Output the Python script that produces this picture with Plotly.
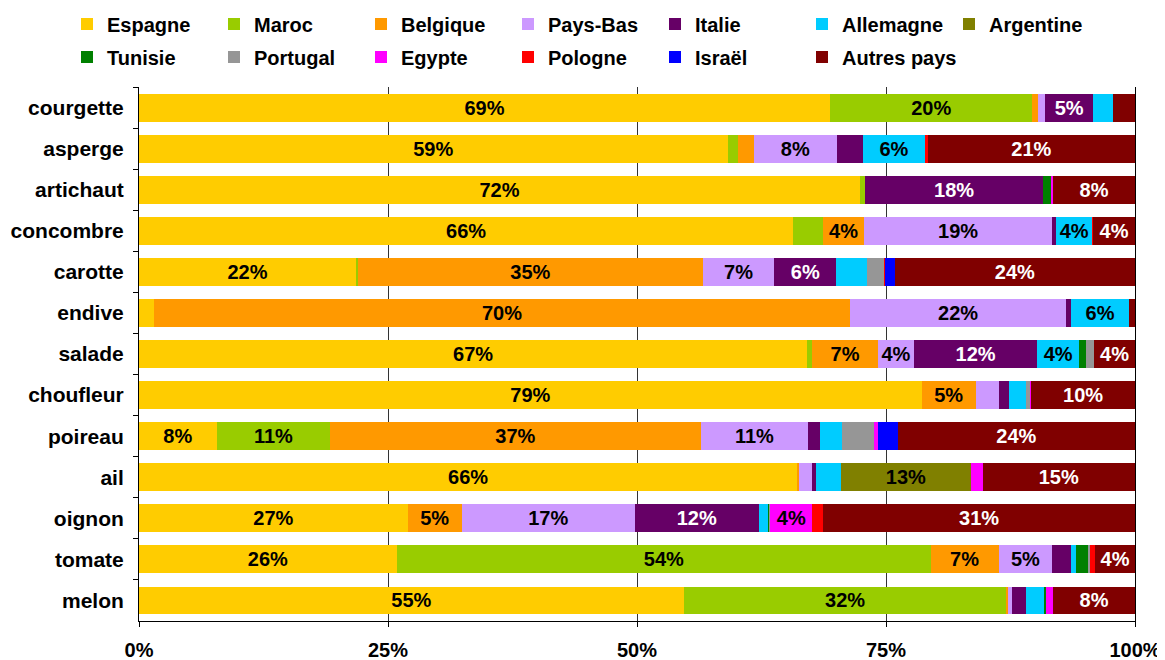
import plotly.graph_objects as go

categories = ["courgette", "asperge", "artichaut", "concombre", "carotte", "endive",
              "salade", "choufleur", "poireau", "ail", "oignon", "tomate", "melon"]

espagne   = [69.4, 59.1, 72.4, 65.7, 21.8, 1.5, 67.1, 78.6, 7.8, 66.1, 27.0, 25.9, 54.7]
maroc     = [20.3, 1.0, 0.5, 3.0, 0.2, 0.0, 0.5, 0.0, 11.4, 0.0, 0.0, 53.6, 32.4]
belgique  = [0.6, 1.6, 0.0, 4.1, 34.6, 69.9, 6.6, 5.4, 37.2, 0.2, 5.4, 6.8, 0.1]
pays_bas  = [0.7, 8.4, 0.0, 18.9, 7.2, 21.7, 3.6, 2.3, 10.8, 1.3, 17.4, 5.4, 0.5]
italie    = [4.8, 2.6, 17.9, 0.4, 6.2, 0.5, 12.4, 1.0, 1.2, 0.4, 12.4, 1.9, 1.4]
allemagne = [2.0, 6.2, 0.0, 3.6, 3.1, 5.8, 4.2, 1.8, 2.2, 2.5, 1.0, 0.5, 1.8]
argentine = [0.0, 0.0, 0.0, 0.0, 0.0, 0.0, 0.0, 0.0, 0.0, 13.0, 0.0, 0.0, 0.0]
tunisie   = [0.0, 0.0, 0.8, 0.0, 0.0, 0.0, 0.7, 0.0, 0.0, 0.0, 0.1, 1.2, 0.2]
portugal  = [0.0, 0.0, 0.0, 0.0, 1.7, 0.0, 0.8, 0.4, 3.2, 0.0, 0.1, 0.2, 0.0]
egypte    = [0.0, 0.0, 0.2, 0.0, 0.0, 0.0, 0.0, 0.1, 0.4, 1.2, 4.2, 0.0, 0.7]
pologne   = [0.0, 0.3, 0.0, 0.1, 0.1, 0.0, 0.0, 0.0, 0.0, 0.0, 1.1, 0.5, 0.0]
israel    = [0.0, 0.0, 0.0, 0.0, 1.0, 0.0, 0.0, 0.0, 2.0, 0.0, 0.0, 0.0, 0.0]
autres    = [2.2, 20.8, 8.2, 4.2, 24.1, 0.6, 4.1, 10.4, 23.8, 15.3, 31.3, 4.0, 8.2]

x_tickvals = [0, 25, 50, 75, 100]
x_ticktext = ["0%", "25%", "50%", "75%", "100%"]

series = [
    ("Espagne", espagne, "#FFCC00", "black", "legend"),
    ("Maroc", maroc, "#99CC00", "black", "legend"),
    ("Belgique", belgique, "#FF9900", "black", "legend"),
    ("Pays-Bas", pays_bas, "#CC99FF", "black", "legend"),
    ("Italie", italie, "#660066", "white", "legend"),
    ("Allemagne", allemagne, "#00CCFF", "black", "legend"),
    ("Argentine", argentine, "#808000", "black", "legend"),
    ("Tunisie", tunisie, "#008000", "white", "legend2"),
    ("Portugal", portugal, "#969696", "black", "legend2"),
    ("Egypte", egypte, "#FF00FF", "black", "legend2"),
    ("Pologne", pologne, "#FF0000", "white", "legend2"),
    ("Israël", israel, "#0000FF", "white", "legend2"),
    ("Autres pays", autres, "#800000", "white", "legend3"),
]

FONT = "Liberation Sans, Arial, sans-serif"

fig = go.Figure()
for name, vals, color, tcolor, leg in series:
    text = [f"{v:.0f}%" if v >= 3.5 else "" for v in vals]
    fig.add_trace(go.Bar(
        name=name, y=categories, x=vals, orientation="h",
        marker=dict(color=color, line=dict(width=0)),
        text=text, textposition="inside", insidetextanchor="middle",
        textangle=0, constraintext="none",
        insidetextfont=dict(color=tcolor, size=20, family=FONT, weight="bold"),
        legend=leg, hoverinfo="name+x",
    ))

# page body has an 8px margin: figure occupies page pixels 8..1165 x 8..660
OFF = 8
W, H = 1165 - OFF, 660 - OFF
# desired plot area in page pixels: x 139..1135, y 87..621
PL, PR = 139 - OFF, 1165 - 1135
PT, PB = 87 - OFF, 660 - 621
plot_w = W - PL - PR
plot_h = H - PT - PB


def px_x(x):
    return (x - OFF - PL) / plot_w


def px_y(y):
    return (H - PB - (y - OFF)) / plot_h


legend_common = dict(
    orientation="h", xref="paper", yref="paper",
    xanchor="left", yanchor="middle",
    font=dict(size=20, family=FONT, color="black", weight="bold"),
    entrywidth=102, entrywidthmode="pixels",
    bgcolor="rgba(0,0,0,0)", borderwidth=0, traceorder="normal",
)

LEG_X = 67
fig.update_layout(
    width=W, height=H,
    margin=dict(l=PL, r=PR, t=PT, b=PB, autoexpand=False),
    paper_bgcolor="white", plot_bgcolor="white",
    barmode="stack", bargap=0.32,
    font=dict(family=FONT, size=20, color="black", weight="bold"),
    legend=dict(x=px_x(LEG_X), y=px_y(24), **legend_common),
    legend2=dict(x=px_x(LEG_X), y=px_y(57), **legend_common),
    legend3=dict(x=px_x(LEG_X + 5 * 147), y=px_y(57),
                 **{**legend_common, "entrywidth": 200}),
    xaxis=dict(
        range=[0, 100], tickvals=x_tickvals, ticktext=x_ticktext,
        showgrid=True, gridcolor="#333333", gridwidth=1,
        showline=True, linecolor="black", linewidth=1,
        ticks="outside", ticklen=5, tickcolor="black",
        ticklabelstandoff=6, zeroline=False,
        tickfont=dict(size=20, family=FONT, color="black", weight="bold"),
    ),
    yaxis=dict(
        type="category", categoryorder="array", categoryarray=categories,
        autorange="reversed", mirror=True,
        showgrid=False, showline=True, linecolor="black", linewidth=1,
        ticks="outside", ticklen=5, tickcolor="black", tickson="boundaries",
        ticklabelstandoff=10,
        tickfont=dict(size=21, family=FONT, color="black", weight="bold"),
    ),
)

fig.write_html("out.html")
